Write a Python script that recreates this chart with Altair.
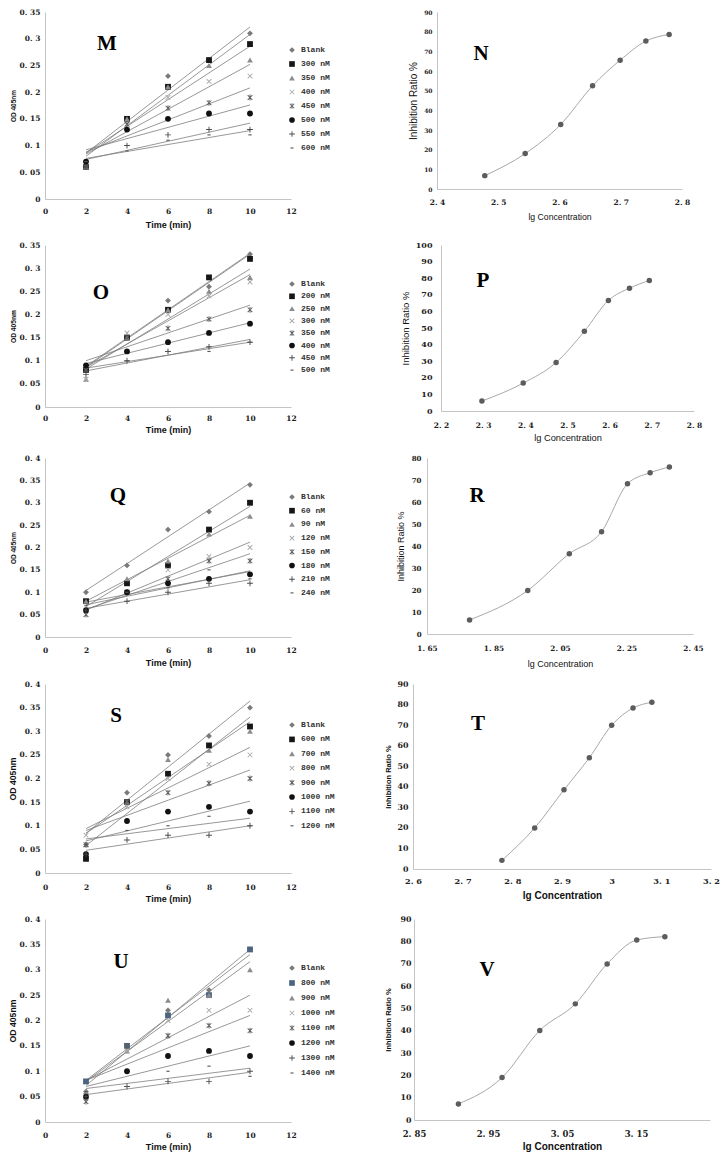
import altair as alt
import pandas as pd

# ---------------- data ----------------
TIMES = [2, 4, 6, 8, 10]
TIME_TICKS = [0, 2, 4, 6, 8, 10, 12]
OD_TICKS_035 = [0, 0.05, 0.1, 0.15, 0.2, 0.25, 0.3, 0.35]
OD_TICKS_040 = [0, 0.05, 0.1, 0.15, 0.2, 0.25, 0.3, 0.35, 0.4]

m_series = ["Blank", "300 nM", "350 nM", "400 nM", "450 nM", "500 nM", "550 nM", "600 nM"]
m_od = [
    [0.07, 0.15, 0.23, 0.26, 0.31],
    [0.06, 0.15, 0.21, 0.26, 0.29],
    [0.06, 0.15, 0.21, 0.25, 0.26],
    [0.06, 0.14, 0.19, 0.22, 0.23],
    [0.06, 0.14, 0.17, 0.18, 0.19],
    [0.07, 0.13, 0.15, 0.16, 0.16],
    [0.06, 0.10, 0.12, 0.13, 0.13],
    [0.07, 0.09, 0.11, 0.12, 0.12],
]
o_series = ["Blank", "200 nM", "250 nM", "300 nM", "350 nM", "400 nM", "450 nM", "500 nM"]
o_od = [
    [0.08, 0.15, 0.23, 0.26, 0.33],
    [0.08, 0.15, 0.21, 0.28, 0.32],
    [0.06, 0.15, 0.21, 0.25, 0.28],
    [0.06, 0.16, 0.20, 0.24, 0.27],
    [0.08, 0.15, 0.17, 0.19, 0.21],
    [0.09, 0.12, 0.14, 0.16, 0.18],
    [0.07, 0.10, 0.12, 0.13, 0.14],
    [0.08, 0.10, 0.12, 0.12, 0.14],
]
q_series = ["Blank", "60 nM", "90 nM", "120 nM", "150 nM", "180 nM", "210 nM", "240 nM"]
q_od = [
    [0.10, 0.16, 0.24, 0.28, 0.34],
    [0.08, 0.12, 0.16, 0.24, 0.30],
    [0.08, 0.13, 0.17, 0.23, 0.27],
    [0.05, 0.10, 0.15, 0.18, 0.20],
    [0.05, 0.10, 0.13, 0.17, 0.17],
    [0.06, 0.10, 0.12, 0.13, 0.14],
    [0.06, 0.08, 0.10, 0.12, 0.12],
    [0.07, 0.10, 0.11, 0.15, 0.13],
]
s_series = ["Blank", "600 nM", "700 nM", "800 nM", "900 nM", "1000 nM", "1100 nM", "1200 nM"]
s_od = [
    [0.06, 0.17, 0.25, 0.29, 0.35],
    [0.03, 0.15, 0.21, 0.27, 0.31],
    [0.06, 0.15, 0.24, 0.26, 0.30],
    [0.08, 0.14, 0.20, 0.23, 0.25],
    [0.06, 0.15, 0.17, 0.19, 0.20],
    [0.04, 0.11, 0.13, 0.14, 0.13],
    [0.04, 0.07, 0.08, 0.08, 0.10],
    [0.06, 0.09, 0.10, 0.12, 0.10],
]
u_series = ["Blank", "800 nM", "900 nM", "1000 nM", "1100 nM", "1200 nM", "1300 nM", "1400 nM"]
u_od = [
    [0.06, 0.15, 0.22, 0.26, 0.34],
    [0.08, 0.15, 0.21, 0.25, 0.34],
    [0.06, 0.14, 0.24, 0.25, 0.30],
    [0.05, 0.14, 0.20, 0.22, 0.22],
    [0.04, 0.15, 0.17, 0.19, 0.18],
    [0.05, 0.10, 0.13, 0.14, 0.13],
    [0.05, 0.07, 0.08, 0.08, 0.10],
    [0.06, 0.07, 0.10, 0.11, 0.09],
]

n_lg = [2.478, 2.544, 2.602, 2.654, 2.699, 2.741, 2.779]
n_ratio = [6.8, 18.0, 32.8, 52.5, 65.5, 75.2, 78.6]
p_lg = [2.297, 2.395, 2.473, 2.540, 2.597, 2.647, 2.694]
p_ratio = [6.0, 16.8, 29.2, 48.0, 66.6, 74.0, 78.6]
r_lg = [1.778, 1.953, 2.078, 2.175, 2.253, 2.321, 2.379]
r_ratio = [6.4, 19.8, 36.5, 46.5, 68.3, 73.3, 75.9]
t_lg = [2.779, 2.845, 2.904, 2.955, 3.000, 3.043, 3.081]
t_ratio = [4.2, 20.0, 38.5, 54.1, 69.9, 78.3, 81.1]
v_lg = [2.910, 2.969, 3.020, 3.068, 3.111, 3.151, 3.189]
v_ratio = [7.2, 19.0, 40.1, 52.0, 69.9, 80.6, 82.1]

n_xticks = [2.4, 2.5, 2.6, 2.7, 2.8]
p_xticks = [2.2, 2.3, 2.4, 2.5, 2.6, 2.7, 2.8]
r_xticks = [1.65, 1.85, 2.05, 2.25, 2.45]
t_xticks = [2.6, 2.7, 2.8, 2.9, 3.0, 3.1, 3.2]
v_xticks = [2.85, 2.95, 3.05, 3.15]
ticks_0_90 = [0, 10, 20, 30, 40, 50, 60, 70, 80, 90]
ticks_0_100 = [0, 10, 20, 30, 40, 50, 60, 70, 80, 90, 100]
ticks_0_80 = [0, 10, 20, 30, 40, 50, 60, 70, 80]

# ---------------- styles ----------------
def bar(x1, y1, x2, y2, w):
    dx, dy = x2 - x1, y2 - y1
    L = (dx * dx + dy * dy) ** 0.5
    nx, ny = -dy / L * w, dx / L * w
    pts = [(x1 + nx, y1 + ny), (x2 + nx, y2 + ny), (x2 - nx, y2 - ny), (x1 - nx, y1 - ny)]
    return "M" + "L".join(f"{x:.3f},{y:.3f}" for x, y in pts) + "Z"

W_ = 0.16
X_PATH = bar(-0.8, -0.8, 0.8, 0.8, W_) + bar(-0.8, 0.8, 0.8, -0.8, W_)
STAR_PATH = X_PATH + bar(0, -1, 0, 1, W_)
PLUS_PATH = bar(-1, 0, 1, 0, W_) + bar(0, -1, 0, 1, W_)
DASH_PATH = bar(-0.55, 0, 0.55, 0, 0.2)
SHAPES = ["diamond", "square", "triangle-up", X_PATH, STAR_PATH, "circle", PLUS_PATH, DASH_PATH]
COLORS = ["#7a7a7a", "#161616", "#8c8c8c", "#a9a9a9", "#5e5e5e", "#111111", "#4a4a4a", "#5a5a5a"]
COLORS_U = ["#7a7a7a", "#4d6480", "#8c8c8c", "#a9a9a9", "#5e5e5e", "#111111", "#4a4a4a", "#5a5a5a"]

TICK_FONT = "DejaVu Serif"
LABEL_EXPR = "replace(format(datum.value, '.2~f'), '.', '. ')"
DOMAIN_COLOR = "#c4c4c4"


def kinetics(series, od, letter, *, width, height, ticks, ymax, legend_y, row_pad,
             letter_pos, colors, ytitle_size, xlab_pad, xtitle_pad):
    rows = [{"series": s, "time": t, "od": v}
            for s, vals in zip(series, od) for t, v in zip(TIMES, vals)]
    df = pd.DataFrame(rows)
    x = alt.X("time:Q", scale=alt.Scale(domain=[0, 12], nice=False, zero=False),
              axis=alt.Axis(values=TIME_TICKS, title="Time (min)", labelExpr=LABEL_EXPR,
                            labelFont=TICK_FONT, labelFontWeight="bold", labelFontSize=7.5,
                            labelColor="#222222", labelPadding=xlab_pad, labelFlush=False,
                            titleFont="Liberation Sans", titleFontWeight="bold",
                            titleFontSize=9, titleColor="#111111", titlePadding=xtitle_pad,
                            ticks=False, grid=False, domainColor=DOMAIN_COLOR))
    y = alt.Y("od:Q", scale=alt.Scale(domain=[0, ymax], nice=False),
              axis=alt.Axis(values=ticks, title="OD 405nm", labelExpr=LABEL_EXPR,
                            labelFont=TICK_FONT, labelFontWeight="bold", labelFontSize=7.5,
                            labelColor="#222222", labelPadding=5,
                            titleFont="Liberation Sans", titleFontWeight="bold",
                            titleFontSize=ytitle_size, titleColor="#111111",
                            titlePadding=max(0.5, 6 - ytitle_size / 2),
                            ticks=False, grid=False, domainColor=DOMAIN_COLOR))
    leg = alt.Legend(title=None, orient="none", legendX=width - 3, legendY=legend_y,
                     symbolSize=32, symbolStrokeWidth=0, labelFont="Liberation Mono",
                     labelFontSize=8, labelFontWeight="bold", labelColor="#333333",
                     rowPadding=row_pad, labelOffset=5, padding=0)
    color = alt.Color("series:N", scale=alt.Scale(domain=series, range=colors), legend=leg)
    shape = alt.Shape("series:N", scale=alt.Scale(domain=series, range=SHAPES), legend=leg)
    base = alt.Chart(df)
    lines = base.transform_regression("time", "od", groupby=["series"], extent=[2, 10]).mark_line(
        color="#7d7d7d", strokeWidth=0.8).encode(x=x, y=y, detail="series:N")
    pts = base.mark_point(filled=True, size=34, opacity=1).encode(x=x, y=y, color=color, shape=shape)
    lab = alt.Chart(pd.DataFrame({"t": [letter]})).mark_text(
        font="Liberation Serif", fontWeight="bold", fontSize=21, align="center",
        baseline="middle", color="#000000").encode(
        text="t:N", x=alt.value(letter_pos[0]), y=alt.value(letter_pos[1]))
    return alt.layer(lines, pts, lab).properties(width=width, height=height)


def inhibition(lg, ratio, letter, *, width, height, xdomain, xticks, ymax, yticks,
               bold, xlab_size, ylab_size, xtitle_size, ytitle_size, ylab_pad,
               ytitle_pad, xlab_pad, xtitle_pad, letter_pos):
    df = pd.DataFrame({"lg": lg, "ratio": ratio})
    tw = "bold" if bold else "normal"
    x = alt.X("lg:Q", scale=alt.Scale(domain=xdomain, nice=False, zero=False),
              axis=alt.Axis(values=xticks, title="lg Concentration", labelExpr=LABEL_EXPR,
                            labelFont=TICK_FONT, labelFontWeight="bold", labelFontSize=xlab_size,
                            labelColor="#222222", labelPadding=xlab_pad, labelFlush=False,
                            titleFont="Liberation Sans", titleFontWeight=tw,
                            titleFontSize=xtitle_size, titleColor="#111111",
                            titlePadding=xtitle_pad, ticks=False, grid=False,
                            domainColor=DOMAIN_COLOR))
    y = alt.Y("ratio:Q", scale=alt.Scale(domain=[0, ymax], nice=False),
              axis=alt.Axis(values=yticks, title="Inhibition Ratio %",
                            labelFont=TICK_FONT, labelFontWeight="bold", labelFontSize=ylab_size,
                            labelColor="#222222", labelPadding=ylab_pad,
                            titleFont="Liberation Sans", titleFontWeight=tw,
                            titleFontSize=ytitle_size, titleColor="#111111",
                            titlePadding=ytitle_pad, ticks=False, grid=False,
                            domainColor=DOMAIN_COLOR))
    base = alt.Chart(df)
    line = base.mark_line(interpolate="monotone", color="#a8a8a8", strokeWidth=1).encode(x=x, y=y)
    pts = base.mark_point(filled=True, size=30, opacity=1, color="#5c5c5c").encode(x=x, y=y)
    lab = alt.Chart(pd.DataFrame({"t": [letter]})).mark_text(
        font="Liberation Serif", fontWeight="bold", fontSize=21, align="center",
        baseline="middle", color="#000000").encode(
        text="t:N", x=alt.value(letter_pos[0]), y=alt.value(letter_pos[1]))
    return alt.layer(line, pts, lab).properties(width=width, height=height)


M = kinetics(m_series, m_od, "M", width=246, height=187, ticks=OD_TICKS_035, ymax=0.35,
             legend_y=34, row_pad=6, letter_pos=(62, 32), colors=COLORS, ytitle_size=6.5,
             xlab_pad=8, xtitle_pad=6)
O = kinetics(o_series, o_od, "O", width=246, height=162, ticks=OD_TICKS_035, ymax=0.35,
             legend_y=35, row_pad=4.3, letter_pos=(56, 48), colors=COLORS, ytitle_size=6.7,
             xlab_pad=7, xtitle_pad=4)
Q = kinetics(q_series, q_od, "Q", width=246, height=179, ticks=OD_TICKS_040, ymax=0.4,
             legend_y=35, row_pad=5.7, letter_pos=(73, 38), colors=COLORS, ytitle_size=6.5,
             xlab_pad=9, xtitle_pad=5)
S = kinetics(s_series, s_od, "S", width=246, height=189, ticks=OD_TICKS_040, ymax=0.4,
             legend_y=37, row_pad=6.4, letter_pos=(71, 32), colors=COLORS, ytitle_size=8.7,
             xlab_pad=10, xtitle_pad=4)
U = kinetics(u_series, u_od, "U", width=246, height=203, ticks=OD_TICKS_040, ymax=0.4,
             legend_y=45, row_pad=7, letter_pos=(76, 43), colors=COLORS_U, ytitle_size=8.7,
             xlab_pad=9, xtitle_pad=4)

N = inhibition(n_lg, n_ratio, "N", width=245, height=177, xdomain=[2.4, 2.8], xticks=n_xticks,
               ymax=90, yticks=ticks_0_90, bold=False, xlab_size=7.5, ylab_size=6,
               xtitle_size=8.7, ytitle_size=10, ylab_pad=5, ytitle_pad=5, xlab_pad=9,
               xtitle_pad=7, letter_pos=(44, 42))
P = inhibition(p_lg, p_ratio, "P", width=253, height=166, xdomain=[2.2, 2.8], xticks=p_xticks,
               ymax=100, yticks=ticks_0_100, bold=False, xlab_size=7.5, ylab_size=8,
               xtitle_size=9.3, ytitle_size=9.5, ylab_pad=9, ytitle_pad=5, xlab_pad=10,
               xtitle_pad=5, letter_pos=(42, 36))
R = inhibition(r_lg, r_ratio, "R", width=266, height=176, xdomain=[1.65, 2.45], xticks=r_xticks,
               ymax=80, yticks=ticks_0_80, bold=False, xlab_size=7.3, ylab_size=7,
               xtitle_size=9, ytitle_size=9, ylab_pad=6, ytitle_pad=6, xlab_pad=10,
               xtitle_pad=8, letter_pos=(50, 38))
T = inhibition(t_lg, t_ratio, "T", width=298, height=185, xdomain=[2.6, 3.2], xticks=t_xticks,
               ymax=90, yticks=ticks_0_90, bold=True, xlab_size=8.2, ylab_size=7.9,
               xtitle_size=10, ytitle_size=7.5, ylab_pad=5, ytitle_pad=5, xlab_pad=8,
               xtitle_pad=6, letter_pos=(65, 40))
V = inhibition(v_lg, v_ratio, "V", width=296, height=201, xdomain=[2.85, 3.25], xticks=v_xticks,
               ymax=90, yticks=ticks_0_90, bold=True, xlab_size=8.5, ylab_size=7.9,
               xtitle_size=10, ytitle_size=7.5, ylab_pad=3, ytitle_pad=8, xlab_pad=9,
               xtitle_pad=4, letter_pos=(73, 51))

IND = dict(color="independent", shape="independent")
row1 = alt.hconcat(M, N, spacing=78).resolve_scale(**IND)
row2 = alt.hconcat(O, P, spacing=70).resolve_scale(**IND)
row3 = alt.hconcat(Q, R, spacing=66).resolve_scale(**IND)
row4 = alt.hconcat(S, T, spacing=49).resolve_scale(**IND)
row5 = alt.hconcat(U, V, spacing=49).resolve_scale(**IND)

chart = alt.vconcat(row1, row2, row3, row4, row5, spacing=11).resolve_scale(**IND).properties(
    padding=0, background="white"
).configure_view(stroke=None)

chart.save("out.html", embed_options={"renderer": "svg", "actions": False})
